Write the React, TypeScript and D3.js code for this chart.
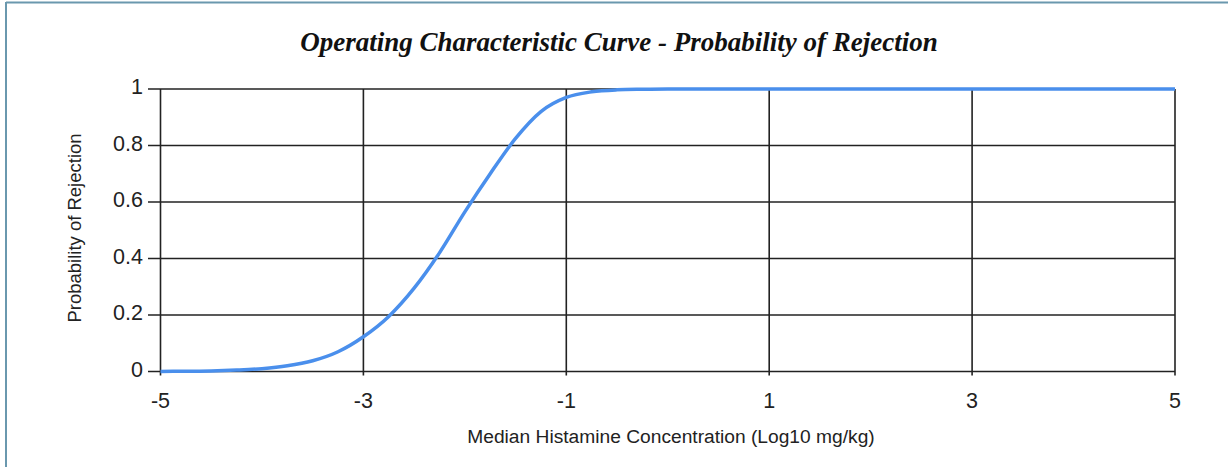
import * as d3 from 'd3';

// values
const concentration = [
  -5, -4.75, -4.5, -4.25, -4, -3.75, -3.5, -3.25, -3, -2.75, -2.5, -2.25, -2, -1.75, -1.5,
  -1.25, -1, -0.75, -0.5, -0.25, 0, 1, 2, 3, 4, 5,
];
const rejection = [
  0, 0.001, 0.002, 0.005, 0.01, 0.02, 0.038, 0.07, 0.123, 0.195, 0.295, 0.42, 0.565, 0.7,
  0.825, 0.92, 0.97, 0.99, 0.997, 0.999, 1, 1, 1, 1, 1, 1,
];
const xTicks = [-5, -3, -1, 1, 3, 5];
const yTicks = [0, 0.2, 0.4, 0.6, 0.8, 1];

const title = 'Operating Characteristic Curve - Probability of Rejection';
const xTitle = 'Median Histamine Concentration (Log10 mg/kg)';
const yTitle = 'Probability of Rejection';

const W = 1228;
const H = 467;
const plot = { left: 160.5, right: 1175, top: 89, bottom: 371.5 };

export default function App() {
  const x = d3.scaleLinear().domain([-5, 5]).range([plot.left, plot.right]);
  const y = d3.scaleLinear().domain([0, 1]).range([plot.bottom, plot.top]);

  const points = concentration.map((c, i) => [c, rejection[i]] as [number, number]);
  const line = d3
    .line<[number, number]>()
    .x((d) => x(d[0]))
    .y((d) => y(d[1]))
    .curve(d3.curveMonotoneX);

  const sans = 'Arial, "Liberation Sans", sans-serif';
  const grid = '#222';

  return (
    <svg
      width={W}
      height={H}
      style={{ position: 'absolute', left: 0, top: 0, background: '#fff' }}
    >
      {/* frame */}
      <line x1={6} x2={6} y1={2} y2={H} stroke="#6a98ae" strokeWidth={2} />
      <line x1={6} x2={W} y1={2.5} y2={2.5} stroke="#6a98ae" strokeWidth={2} />

      <text
        x={619}
        y={51}
        textAnchor="middle"
        fontFamily='"Times New Roman", "Liberation Serif", serif'
        fontWeight="bold"
        fontStyle="italic"
        fontSize={27}
        fill="#111"
      >
        {title}
      </text>

      {/* grid + ticks */}
      {yTicks.map((t) => (
        <g key={'y' + t}>
          <line x1={148} x2={plot.right} y1={y(t)} y2={y(t)} stroke={grid} strokeWidth={1.6} />
          <text
            x={143}
            y={y(t) + 5}
            textAnchor="end"
            fontFamily={sans}
            fontSize={21.5}
            fill="#222"
          >
            {t}
          </text>
        </g>
      ))}
      {xTicks.map((t) => (
        <g key={'x' + t}>
          <line x1={x(t)} x2={x(t)} y1={plot.top} y2={plot.bottom + 4} stroke={grid} strokeWidth={1.6} />
          <text x={x(t)} y={408} textAnchor="middle" fontFamily={sans} fontSize={21.5} fill="#222">
            {t}
          </text>
        </g>
      ))}

      <path d={line(points) ?? ''} fill="none" stroke="#4a8fec" strokeWidth={3.5} />

      <text x={671} y={443} textAnchor="middle" fontFamily={sans} fontSize={19.2} fill="#222">
        {xTitle}
      </text>
      <text
        transform="translate(81,228) rotate(-90)"
        textAnchor="middle"
        fontFamily={sans}
        fontSize={18.5}
        fill="#222"
      >
        {yTitle}
      </text>
    </svg>
  );
}
